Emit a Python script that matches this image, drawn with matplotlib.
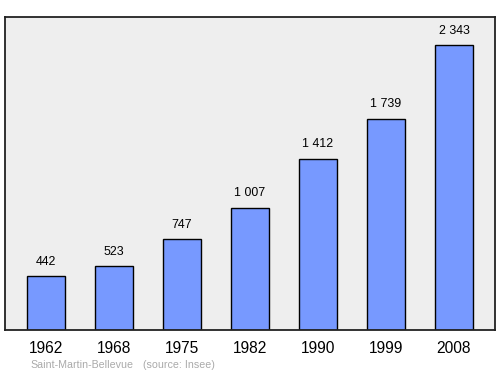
import matplotlib
matplotlib.use("Agg")
import matplotlib.pyplot as plt

years = ["1962", "1968", "1975", "1982", "1990", "1999", "2008"]
population = [442, 523, 747, 1007, 1412, 1739, 2343]
value_labels = ["442", "523", "747", "1 007", "1 412", "1 739", "2 343"]

plt.rcParams['font.family'] = ['Liberation Sans', 'DejaVu Sans']

fig = plt.figure(figsize=(5.0, 3.74), dpi=100)
W, H = 500, 374
ax = fig.add_axes([5 / W, 1 - 330 / H, 490 / W, (330 - 17) / H])
ax.set_facecolor('#eeeeee')

x = list(range(len(years)))
ax.bar(x, population, width=0.57, color='#7799ff', edgecolor='black', linewidth=1.0, zorder=2)

ymax = 2343 * 1.1
for xi, v, lab in zip(x, population, value_labels):
    ax.text(xi, v + ymax * 0.027, lab, ha='center', va='bottom', fontsize=8.9, color='black')

ax.set_xlim(-0.603, 6.603)
ax.set_ylim(0, ymax)
ax.set_xticks(x)
ax.set_xticklabels(years, fontsize=11.2)
ax.tick_params(axis='x', length=0, pad=8)
ax.set_yticks([])
for s in ax.spines.values():
    s.set_color('#222222')
    s.set_linewidth(1.3)

fig.text(30 / W, 1 - 365 / H, "Saint-Martin-Bellevue", fontsize=7.7, color='#aaaaaa', va='center', ha='left')
fig.text(143 / W, 1 - 365 / H, "(source: Insee)", fontsize=7.7, color='#aaaaaa', va='center', ha='left')

fig.savefig("out.png", dpi=100, facecolor='white')
